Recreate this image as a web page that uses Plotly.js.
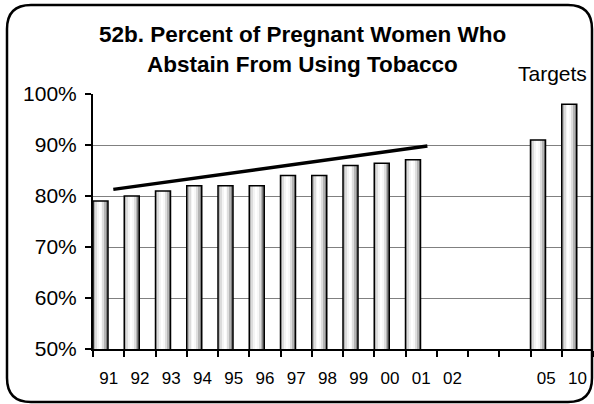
<!DOCTYPE html>
<html>
<head>
<meta charset="utf-8">
<script src="https://cdn.plot.ly/plotly-3.0.1.min.js"></script>
<style>html,body{margin:0;padding:0;background:#fff;}#chart{width:594px;height:404px;}</style>
</head>
<body>
<div id="chart"></div>
<script>
// ---- data ----
const yearLabels = ['91','92','93','94','95','96','97','98','99','00','01','02','','','05','10'];
const percentValues = [79, 80, 81, 82, 82, 82, 84, 84, 86, 86.4, 87.1, null, null, null, 91, 98];
const trendX = [0.15, 10.2];
const trendY = [81.3, 89.8];
const yTicks = [50, 60, 70, 80, 90, 100];
const titleLines = ['52b. Percent of Pregnant Women Who', 'Abstain From Using Tobacco'];
const targetsLabel = 'Targets';

// ---- layout geometry ----
const W = 594, H = 404;
const M = {l: 93, r: 1, t: 94, b: 55};
const PW = W - M.l - M.r, PH = H - M.t - M.b;
const px2x = px => (px - M.l) / PW;
const py2y = py => 1 - (py - M.t) / PH;

const positions = yearLabels.map((_, i) => i);
const barWidth = 0.48;
const stripeColors = ['#b4b4b4','#dcdcdc','#f4f4f4','#ffffff','#f8f8f8','#dedede','#b4b4b4','#808080'];
const traces = [];
const n = stripeColors.length;
stripeColors.forEach((c, k) => {
  traces.push({
    type: 'bar', x: positions, y: percentValues,
    width: barWidth / n + 0.004, offset: -0.5 + k * barWidth / n,
    marker: {color: c, line: {width: 0}},
    hoverinfo: 'skip', showlegend: false
  });
});
traces.push({
  type: 'bar', x: positions, y: percentValues,
  width: barWidth, offset: -0.5,
  marker: {color: 'rgba(0,0,0,0)', line: {color: '#000', width: 1.5}},
  showlegend: false
});
traces.push({
  type: 'scatter', mode: 'lines', x: trendX, y: trendY,
  line: {color: '#000', width: 3.5}, showlegend: false
});

function P(x, y) { return px2x(x).toFixed(5) + ',' + py2y(y).toFixed(5); }
const x0 = 7, y0 = 5, x1 = 592, y1 = 402, r = 24;
const framePath = `M${P(x0 + r, y0)} L${P(x1 - r, y0)} Q${P(x1, y0)} ${P(x1, y0 + r)} L${P(x1, y1 - r)} Q${P(x1, y1)} ${P(x1 - r, y1)} L${P(x0 + r, y1)} Q${P(x0, y1)} ${P(x0, y1 - r)} L${P(x0, y0 + r)} Q${P(x0, y0)} ${P(x0 + r, y0)} Z`;

const font = 'Liberation Sans, Arial, sans-serif';
const layout = {
  width: W, height: H,
  margin: M,
  paper_bgcolor: '#fff', plot_bgcolor: '#fff',
  barmode: 'overlay', bargap: 0,
  showlegend: false,
  font: {family: font, color: '#000'},
  xaxis: {
    type: 'linear', range: [-0.5, 15.5],
    tickmode: 'array', tickvals: positions, ticktext: yearLabels,
    ticks: '', showgrid: false, zeroline: false,
    showline: true, linecolor: '#000', linewidth: 2,
    tickfont: {family: font, size: 17, color: '#000'},
    ticklabelstandoff: 13,
    minor: {tickmode: 'linear', tick0: -0.5, dtick: 1, ticks: 'outside', ticklen: 6, tickwidth: 2, tickcolor: '#000', showgrid: false},
    fixedrange: true
  },
  yaxis: {
    range: [50, 100], tickmode: 'array', tickvals: yTicks,
    ticktext: yTicks.map(v => v + '%'),
    ticks: 'outside', ticklen: 6, tickwidth: 1.5, tickcolor: '#000',
    showline: true, linecolor: '#000', linewidth: 2,
    showgrid: true, gridcolor: '#808080', gridwidth: 1,
    zeroline: false,
    tickfont: {family: font, size: 21, color: '#000'},
    ticklabelstandoff: 4,
    fixedrange: true
  },
  annotations: [
    {text: '<b>' + titleLines[0] + '</b>', xref: 'paper', yref: 'paper', x: px2x(302), y: py2y(35), xanchor: 'center', yanchor: 'middle', showarrow: false, font: {family: font, size: 22.5, color: '#000'}},
    {text: '<b>' + titleLines[1] + '</b>', xref: 'paper', yref: 'paper', x: px2x(302), y: py2y(65), xanchor: 'center', yanchor: 'middle', showarrow: false, font: {family: font, size: 22.5, color: '#000'}},
    {text: targetsLabel, xref: 'paper', yref: 'paper', x: px2x(552), y: py2y(73), xanchor: 'center', yanchor: 'middle', showarrow: false, font: {family: font, size: 21, color: '#000'}}
  ],
  shapes: [
    {type: 'path', xref: 'paper', yref: 'paper', path: framePath, line: {color: '#000', width: 2.5}, fillcolor: 'rgba(0,0,0,0)', layer: 'above'}
  ]
};

Plotly.newPlot('chart', traces, layout, {displayModeBar: false, staticPlot: true});
</script>
</body>
</html>
